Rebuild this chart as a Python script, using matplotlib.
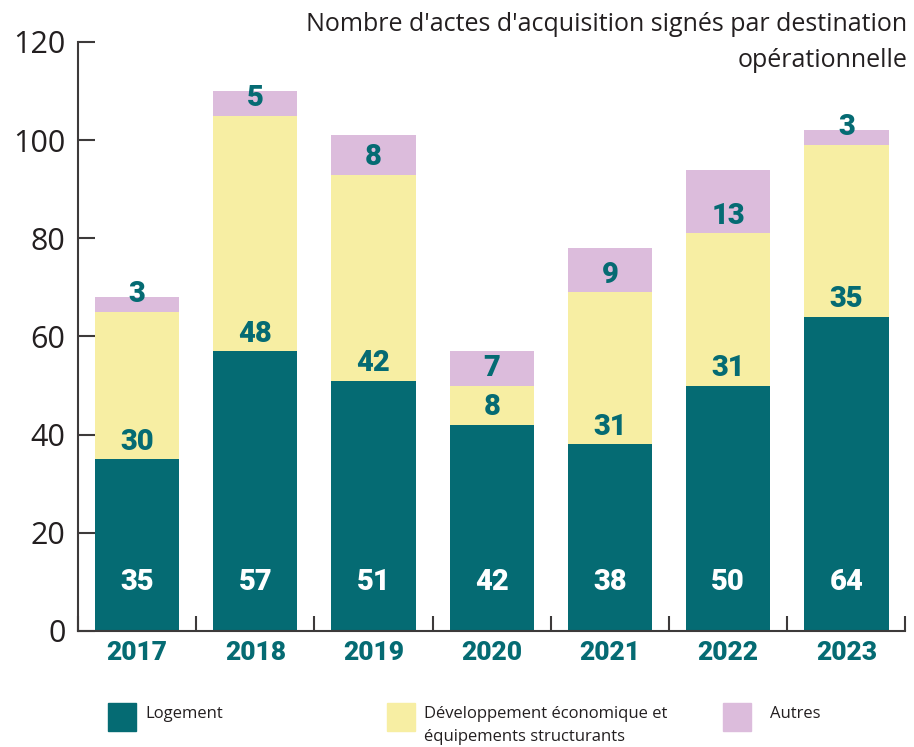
import numpy as np
import matplotlib
matplotlib.use('Agg')
import matplotlib.pyplot as plt
from matplotlib.patches import Rectangle

# Données
annees = ['2017', '2018', '2019', '2020', '2021', '2022', '2023']
logement = [35, 57, 51, 42, 38, 50, 64]
developpement = [30, 48, 42, 8, 31, 31, 35]
autres = [3, 5, 8, 7, 9, 13, 3]

c_log = '#056b73'
c_dev = '#f7eea3'
c_aut = '#dcbcdc'
axe = '#3d3a3a'
noir = '#231f20'

txt_font = ['Open Sans', 'DejaVu Sans']
num_font = ['Roboto', 'DejaVu Sans']

fig = plt.figure(figsize=(9.14, 7.47), dpi=100)
ax = fig.add_axes([0.0853, 0.1553, 0.9054, 0.7885])

x = np.arange(len(annees))
log = np.array(logement)
dev = np.array(developpement)
aut = np.array(autres)
w = 0.714

ax.bar(x, log, w, color=c_log)
ax.bar(x, dev, w, bottom=log, color=c_dev)
ax.bar(x, aut, w, bottom=log + dev, color=c_aut)

# étiquettes des valeurs
num_kw = dict(ha='center', va='center', family=num_font, fontweight='black', fontsize=21)
for i in range(len(x)):
    ax.text(x[i], 10, str(log[i]), color='white', **num_kw)
    ax.text(x[i], log[i] + 3.6, str(dev[i]), color=c_log, **num_kw)
    ax.text(x[i], log[i] + dev[i] + 3.6, str(aut[i]), color=c_log, **num_kw)

ax.set_xlim(-0.5, len(x) - 0.5)
ax.set_ylim(0, 120)
ax.set_yticks(np.arange(0, 121, 20))
ax.set_yticklabels([str(v) for v in range(0, 121, 20)], family=txt_font, fontsize=22, color=noir)
ax.tick_params(axis='y', direction='in', length=12, width=1.5, color=axe, pad=9)

ax.set_xticks(np.arange(-0.5, len(x)), minor=False)
ax.set_xticklabels([])
ax.tick_params(axis='x', which='major', direction='in', length=11, width=1.5, color=axe)
ax.set_xticks(x, minor=True)
ax.set_xticklabels(annees, minor=True, family=num_font, fontweight='black', fontsize=19, color=c_log)
ax.tick_params(axis='x', which='minor', length=0, pad=7)

for s in ['top', 'right']:
    ax.spines[s].set_visible(False)
for s in ['left', 'bottom']:
    ax.spines[s].set_color(axe)
    ax.spines[s].set_linewidth(1.5)

fig.text(0.993, 1 - 12 / 747, "Nombre d'actes d'acquisition signés par destination\nopérationnelle",
         ha='right', va='top', family=txt_font, fontsize=18, color=noir,
         linespacing=1.6, multialignment='right')

# légende
W, H = 914, 747
leg_items = [('Logement', c_log, 108, 145),
             ('Développement économique et\néquipements structurants', c_dev, 387, 424),
             ('Autres', c_aut, 723, 770)]
for lab, col, xs, xt in leg_items:
    fig.add_artist(Rectangle((xs / W, 1 - 731 / H), 28 / W, 28 / H, color=col,
                             transform=fig.transFigure))
    fig.text(xt / W, 1 - 706 / H, lab, ha='left', va='top', family=txt_font,
             fontsize=12, color=noir, linespacing=1.55)

fig.savefig('out.png', dpi=100)
